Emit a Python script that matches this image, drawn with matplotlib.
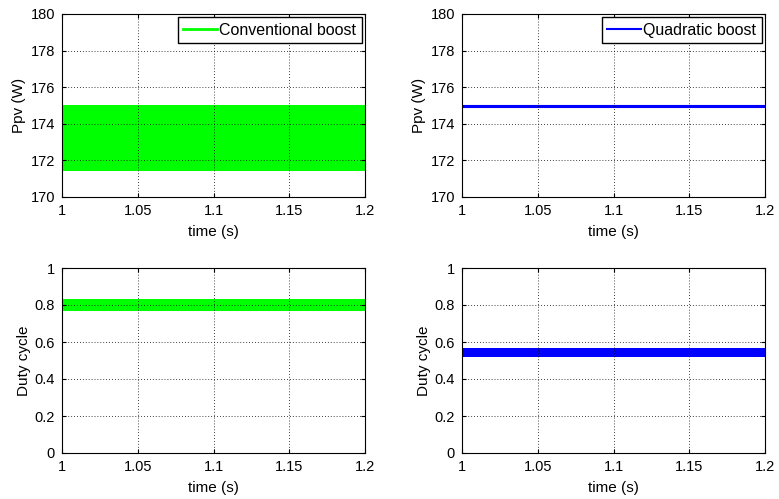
import matplotlib.pyplot as plt
import numpy as np

plt.rcParams['font.family'] = ['Liberation Sans', 'DejaVu Sans']
plt.rcParams['font.size'] = 10

# time axis (s) and envelopes
time = [1.0, 1.05, 1.1, 1.15, 1.2]

ppv_conv_hi = [175.05, 175.05, 175.05, 175.05, 175.05]
ppv_conv_lo = [171.4, 171.4, 171.4, 171.4, 171.4]
ppv_quad_hi = [175.05, 175.05, 175.05, 175.05, 175.05]
ppv_quad_lo = [174.93, 174.93, 174.93, 174.93, 174.93]

duty_conv_hi = [0.835, 0.835, 0.835, 0.835, 0.835]
duty_conv_lo = [0.768, 0.768, 0.768, 0.768, 0.768]
duty_quad_hi = [0.565, 0.565, 0.565, 0.565, 0.565]
duty_quad_lo = [0.52, 0.52, 0.52, 0.52, 0.52]

xticks = [1, 1.05, 1.1, 1.15, 1.2]
xticklabels = ['1', '1.05', '1.1', '1.15', '1.2']
ppv_ticks = [170, 172, 174, 176, 178, 180]
duty_ticks = [0, 0.2, 0.4, 0.6, 0.8, 1]
duty_labels = ['0', '0.2', '0.4', '0.6', '0.8', '1']

green = '#00ff00'
blue = '#0000ff'

W, H = 779, 499
fig = plt.figure(figsize=(W / 100, H / 100), dpi=100)


def mk_ax(x0, y0, x1, y1):
    return fig.add_axes([x0 / W, 1 - y1 / H, (x1 - x0) / W, (y1 - y0) / H])


ax1 = mk_ax(62, 14, 365, 197)
ax2 = mk_ax(462, 14, 765, 197)
ax3 = mk_ax(62, 268, 365, 453)
ax4 = mk_ax(462, 268, 765, 453)

ax1.fill_between(time, ppv_conv_lo, ppv_conv_hi, color=green, lw=0)
ax1.plot([], [], color=green, lw=2, label='Conventional boost')
ax2.fill_between(time, ppv_quad_lo, ppv_quad_hi, color=blue, lw=0.8)
ax2.plot([], [], color=blue, lw=1.5, label='Quadratic boost')
ax3.fill_between(time, duty_conv_lo, duty_conv_hi, color=green, lw=0)
ax4.fill_between(time, duty_quad_lo, duty_quad_hi, color=blue, lw=0)

for ax in (ax1, ax2):
    ax.set_ylim(170, 180)
    ax.set_yticks(ppv_ticks)
    ax.set_ylabel('Ppv (W)', fontsize=11, labelpad=3)
    ax.legend(loc='upper right', fancybox=False, edgecolor='black',
              handlelength=2.1, borderpad=0.35, handletextpad=0.15,
              borderaxespad=0.2, fontsize=11.5, framealpha=1)
for ax in (ax3, ax4):
    ax.set_ylim(0, 1)
    ax.set_yticks(duty_ticks)
    ax.set_yticklabels(duty_labels)
    ax.set_ylabel('Duty cycle', fontsize=11, labelpad=3)

for ax in (ax1, ax2, ax3, ax4):
    ax.set_xlim(1, 1.2)
    ax.set_xticks(xticks)
    ax.set_xticklabels(xticklabels)
    ax.set_xlabel('time (s)', fontsize=11, labelpad=5)
    ax.grid(True, color='black', linestyle=(0, (1, 2.5)), lw=0.6)
    ax.tick_params(direction='in', top=True, right=True, length=3,
                   pad=5, labelsize=10.5)
    for s in ax.spines.values():
        s.set_linewidth(0.8)

fig.savefig('out.png', dpi=100)
